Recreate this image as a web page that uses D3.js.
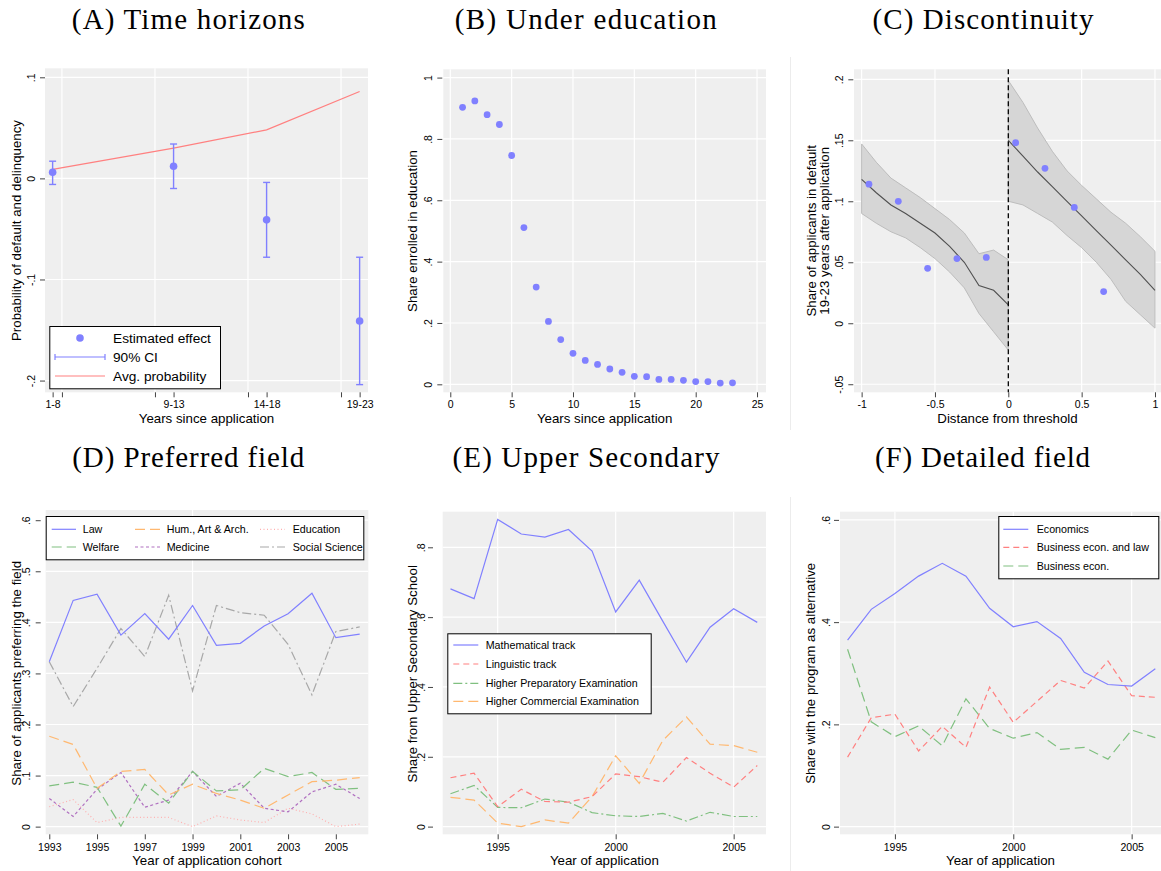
<!DOCTYPE html>
<html><head><meta charset="utf-8">
<script src="https://cdn.jsdelivr.net/npm/d3@7"></script>
<style>body{margin:0;background:#fff}svg{display:block}</style>
</head><body>
<svg id="c" width="1161" height="871"></svg>
<script>
// ---------------- DATA ----------------
// (A) Time horizons
const periodLabels = ["1-8", "9-13", "14-18", "19-23"];
const periodMid = [4.5, 11, 16, 21];
const periodGrid = [5, 10, 15, 20];
const estEffect = [0.006, 0.012, -0.041, -0.141];
const ciLow = [-0.006, -0.010, -0.078, -0.204];
const ciHigh = [0.017, 0.034, -0.004, -0.078];
const avgProb = [0.009, 0.030, 0.048, 0.086];
const aYTicks = [-0.2, -0.1, 0, 0.1];
const aYLabels = ["-.2", "-.1", "0", ".1"];

// (B) Under education
const yearsSince = [1,2,3,4,5,6,7,8,9,10,11,12,13,14,15,16,17,18,19,20,21,22,23];
const shareEnrolled = [0.903,0.924,0.879,0.847,0.746,0.511,0.317,0.205,0.146,0.101,0.078,0.065,0.050,0.039,0.026,0.025,0.016,0.016,0.013,0.009,0.009,0.004,0.005];
const bXTicks = [0,5,10,15,20,25];
const bXLabels = ["0","5","10","15","20","25"];
const bYTicks = [0,0.2,0.4,0.6,0.8,1];
const bYLabels = ["0",".2",".4",".6",".8","1"];

// (C) Discontinuity
const binX = [-0.95,-0.75,-0.55,-0.35,-0.15,0.05,0.25,0.45,0.65];
const binY = [0.114,0.100,0.045,0.053,0.054,0.148,0.127,0.095,0.026];
const gridLeft = [-1,-0.9,-0.8,-0.7,-0.6,-0.5,-0.4,-0.3,-0.2,-0.1,0];
const fitLeft = [0.118,0.107,0.097,0.090,0.082,0.074,0.063,0.050,0.031,0.027,0.015];
const upLeft  = [0.147,0.132,0.119,0.111,0.103,0.094,0.085,0.074,0.057,0.060,0.052];
const loLeft  = [0.090,0.082,0.075,0.070,0.062,0.053,0.042,0.029,0.008,-0.007,-0.022];
const gridRight = [0,0.1,0.2,0.3,0.4,0.5,0.6,0.7,0.8,0.9,1];
const fitRight = [0.150,0.137,0.124,0.112,0.100,0.088,0.076,0.064,0.052,0.040,0.027];
const upRight  = [0.199,0.181,0.160,0.141,0.125,0.113,0.102,0.091,0.082,0.071,0.059];
const loRight  = [0.100,0.097,0.090,0.083,0.072,0.062,0.050,0.036,0.018,0.007,-0.004];
const cXTicks = [-1,-0.5,0,0.5,1];
const cXLabels = ["-1","-0.5","0","0.5","1"];
const cYTicks = [-0.05,0,0.05,0.1,0.15,0.2];
const cYLabels = ["-.05","0",".05",".1",".15",".2"];

// (D) Preferred field
const cohorts = [1993,1994,1995,1996,1997,1998,1999,2000,2001,2002,2003,2004,2005,2006];
const law       = [0.323,0.443,0.455,0.375,0.417,0.367,0.433,0.355,0.359,0.393,0.417,0.457,0.370,0.377];
const welfare   = [0.080,0.087,0.077,0.001,0.083,0.046,0.108,0.070,0.072,0.114,0.098,0.106,0.073,0.075];
const humArt    = [0.177,0.161,0.075,0.108,0.112,0.062,0.083,0.065,0.052,0.036,0.062,0.088,0.091,0.096];
const medicine  = [0.055,0.020,0.073,0.106,0.038,0.052,0.108,0.059,0.085,0.036,0.029,0.068,0.083,0.055];
const education = [0.039,0.053,0.008,0.018,0.018,0.018,0.000,0.021,0.013,0.008,0.036,0.025,0.000,0.005];
const socSci    = [0.323,0.235,0.310,0.388,0.333,0.453,0.266,0.433,0.419,0.414,0.357,0.258,0.382,0.391];
const dXTicks = [1993,1995,1997,1999,2001,2003,2005];
const dYTicks = [0,0.1,0.2,0.3,0.4,0.5,0.6];
const dYLabels = ["0",".1",".2",".3",".4",".5",".6"];

// (E) Upper Secondary
const mathTrack = [0.681,0.653,0.880,0.838,0.829,0.851,0.789,0.615,0.706,0.588,0.471,0.571,0.624,0.585];
const lingTrack = [0.140,0.153,0.057,0.107,0.072,0.070,0.086,0.151,0.143,0.127,0.198,0.153,0.113,0.175];
const prepExam  = [0.094,0.118,0.055,0.054,0.079,0.070,0.040,0.031,0.029,0.038,0.016,0.041,0.029,0.029];
const commExam  = [0.084,0.076,0.010,0.000,0.019,0.010,0.086,0.203,0.124,0.247,0.314,0.236,0.232,0.213];
const eXTicks = [1995,2000,2005];
const eYTicks = [0,0.2,0.4,0.6,0.8];
const eYLabels = ["0",".2",".4",".6",".8"];

// (F) Detailed field
const economics = [0.365,0.425,0.456,0.490,0.515,0.490,0.427,0.391,0.401,0.368,0.302,0.278,0.275,0.309];
const bizLaw    = [0.136,0.213,0.220,0.148,0.196,0.155,0.273,0.204,0.245,0.286,0.271,0.324,0.256,0.253];
const bizEcon   = [0.347,0.205,0.176,0.197,0.158,0.250,0.192,0.173,0.184,0.151,0.155,0.132,0.189,0.174];
const fYTicks = [0,0.2,0.4,0.6];
const fYLabels = ["0",".2",".4",".6"];

// ---------------- STYLE ----------------
const SANS = "'Liberation Sans', Arial, Helvetica, sans-serif";
const SERIF = "'Liberation Serif', 'Times New Roman', serif";
const BLUE = "#8080ff", RED = "#ff8080", GREEN = "#80c080", ORANGE = "#ffb870",
      PURPLE = "#b070c0", PINK = "#ffb0b0", GRAY = "#a8a8a8";

const svg = d3.select("#c");

// light panel borders
svg.append("line").attr("x1",790.5).attr("x2",790.5).attr("y1",57).attr("y2",430).attr("stroke","#ececec");
svg.append("line").attr("x1",790.5).attr("x2",790.5).attr("y1",497).attr("y2",871).attr("stroke","#ececec");

function title(txt, cx, base, w) {
  svg.append("text").attr("x", cx - w/2).attr("y", base).text(txt)
    .attr("textLength", w).attr("lengthAdjust", "spacing")
    .style("font-family", SERIF).style("font-size", "29px").attr("fill", "#000");
}

function panel(p) {
  const g = svg.append("g");
  const x = d3.scaleLinear().domain(p.xd).range([p.L, p.R]);
  const y = d3.scaleLinear().domain(p.yd).range([p.B, p.T]);
  g.append("rect").attr("x", p.L).attr("y", p.T).attr("width", p.R - p.L).attr("height", p.B - p.T).attr("fill", "#efefef");
  g.selectAll(null).data(p.yTicks).enter().append("line")
    .attr("x1", p.L).attr("x2", p.R).attr("y1", d => y(d)).attr("y2", d => y(d))
    .attr("stroke", "#fff").attr("stroke-width", 1.2);
  g.selectAll(null).data(p.xGrid || []).enter().append("line")
    .attr("y1", p.T).attr("y2", p.B).attr("x1", d => x(d)).attr("x2", d => x(d))
    .attr("stroke", "#fff").attr("stroke-width", 1.2);
  // y axis
  const ya = d3.axisLeft(y).tickValues(p.yTicks).tickFormat((d, i) => p.yLabels[i]).tickSize(5);
  const yg = g.append("g").attr("transform", `translate(${p.yAxisX},0)`).call(ya);
  yg.select(".domain").remove();
  yg.selectAll(".tick line").attr("stroke", "#444");
  yg.selectAll(".tick text").attr("transform", "rotate(-90)").attr("x", 0)
    .attr("y", -(p.yAxisX - p.yLabX)).attr("dy", 0).attr("text-anchor", "middle")
    .style("font-family", SANS).style("font-size", "10.5px").attr("fill", "#000");
  // x axis
  const xa = d3.axisBottom(x).tickValues(p.xTicks).tickFormat((d, i) => p.xLabels[i]).tickSize(5);
  const xg = g.append("g").attr("transform", `translate(0,${p.B})`).call(xa);
  xg.select(".domain").remove();
  xg.selectAll(".tick line").attr("stroke", "#444");
  xg.selectAll(".tick text").attr("y", p.xLabBase - p.B).attr("dy", 0)
    .style("font-family", SANS).style("font-size", "10.5px").attr("fill", "#000");
  if (p.xMinor) {
    const xm = d3.axisBottom(x).tickValues(p.xMinor).tickFormat("").tickSize(5);
    const mg = g.append("g").attr("transform", `translate(0,${p.B})`).call(xm);
    mg.select(".domain").remove();
    mg.selectAll(".tick line").attr("stroke", "#444");
  }
  // axis titles
  g.append("text").attr("x", (p.L + p.R) / 2).attr("y", p.xTitleBase).attr("text-anchor", "middle")
    .text(p.xTitle).style("font-family", SANS).style("font-size", "13.3px").attr("fill", "#000");
  const cy = p.yTitleCY;
  p.yTitle.forEach((t, i) => {
    const bx = p.yTitleX[i];
    g.append("text").attr("transform", `translate(${bx},${cy}) rotate(-90)`).attr("text-anchor", "middle")
      .text(t).style("font-family", SANS).style("font-size", "13.3px").attr("fill", "#000");
  });
  return { g, x, y };
}

function legendBox(g, x0, y0, x1, y1) {
  g.append("rect").attr("x", x0 + 0.5).attr("y", y0 + 0.5).attr("width", x1 - x0).attr("height", y1 - y0)
    .attr("fill", "#fff").attr("stroke", "#000").attr("stroke-width", 1);
}
function legendLine(g, x0, x1, yy, color, dash, label, tx, fs) {
  g.append("line").attr("x1", x0).attr("x2", x1).attr("y1", yy).attr("y2", yy)
    .attr("stroke", color).attr("stroke-width", 1.2).attr("stroke-dasharray", dash || null);
  g.append("text").attr("x", tx).attr("y", yy + fs * 0.36).text(label)
    .style("font-family", SANS).style("font-size", fs + "px").attr("fill", "#000");
}
function seriesLine(g, x, y, xs, ys, color, dash) {
  g.append("path").datum(ys.map((v, i) => [xs[i], v]))
    .attr("d", d3.line().x(d => x(d[0])).y(d => y(d[1])))
    .attr("fill", "none").attr("stroke", color).attr("stroke-width", 1.2)
    .attr("stroke-dasharray", dash || null);
}

const LONG = "10,5", DASH = "6,4", SHORT = "3,2.5", DOT = "1,2.5", DASHDOT = "9,3,2,3";

// ---------------- (A) ----------------
title("(A) Time horizons", 188.3, 28.5, 233);
{
  const { g, x, y } = panel({
    L: 45, R: 368, T: 68.3, B: 392.3, xd: [4.09, 21.45], yd: [-0.2116, 0.1089],
    yTicks: aYTicks, yLabels: aYLabels, xTicks: periodMid, xLabels: periodLabels,
    xGrid: periodGrid, xMinor: periodGrid, yAxisX: 45, yLabX: 35, xLabBase: 408.5,
    xTitle: "Years since application", xTitleBase: 423, yTitle: ["Probability of default and delinquency"],
    yTitleX: [20.5], yTitleCY: 230.5
  });
  seriesLine(g, x, y, periodMid, avgProb, RED);
  periodMid.forEach((m, i) => {
    g.append("line").attr("x1", x(m)).attr("x2", x(m)).attr("y1", y(ciLow[i])).attr("y2", y(ciHigh[i]))
      .attr("stroke", BLUE).attr("stroke-width", 1.4);
    [ciLow[i], ciHigh[i]].forEach(v => g.append("line").attr("x1", x(m) - 3.5).attr("x2", x(m) + 3.5)
      .attr("y1", y(v)).attr("y2", y(v)).attr("stroke", BLUE).attr("stroke-width", 1.4));
  });
  g.selectAll(null).data(estEffect).enter().append("circle")
    .attr("cx", (d, i) => x(periodMid[i])).attr("cy", d => y(d)).attr("r", 3.8).attr("fill", BLUE);
  legendBox(g, 49.3, 326, 220, 388.3);
  g.append("circle").attr("cx", 80).attr("cy", 338).attr("r", 3.8).attr("fill", BLUE);
  g.append("text").attr("x", 113).attr("y", 338 + 5).text("Estimated effect").style("font-family", SANS).style("font-size", "13.7px");
  g.append("line").attr("x1", 55).attr("x2", 105).attr("y1", 357).attr("y2", 357).attr("stroke", BLUE).attr("stroke-width", 1.2);
  [55, 105].forEach(xx => g.append("line").attr("x1", xx).attr("x2", xx).attr("y1", 354).attr("y2", 360).attr("stroke", BLUE).attr("stroke-width", 1.2));
  g.append("text").attr("x", 113).attr("y", 357 + 5).text("90% CI").style("font-family", SANS).style("font-size", "13.7px");
  g.append("line").attr("x1", 55).attr("x2", 105).attr("y1", 376).attr("y2", 376).attr("stroke", RED).attr("stroke-width", 1.2);
  g.append("text").attr("x", 113).attr("y", 376 + 5).text("Avg. probability").style("font-family", SANS).style("font-size", "13.7px");
}

// ---------------- (B) ----------------
title("(B) Under education", 585.8, 28.5, 262);
{
  const { g, x, y } = panel({
    L: 443.3, R: 766, T: 69.3, B: 392.3, xd: [-0.57, 25.73], yd: [-0.026, 1.027],
    yTicks: bYTicks, yLabels: bYLabels, xTicks: bXTicks, xLabels: bXLabels, xGrid: bXTicks,
    yAxisX: 442.3, yLabX: 431.7, xLabBase: 408.5,
    xTitle: "Years since application", xTitleBase: 423, yTitle: ["Share enrolled in education"],
    yTitleX: [417], yTitleCY: 231
  });
  g.selectAll(null).data(shareEnrolled).enter().append("circle")
    .attr("cx", (d, i) => x(yearsSince[i])).attr("cy", d => y(d)).attr("r", 3.4).attr("fill", BLUE);
}

// ---------------- (C) ----------------
title("(C) Discontinuity", 983, 28.5, 221);
{
  const { g, x, y } = panel({
    L: 854, R: 1161, T: 69.3, B: 392.3, xd: [-1.052, 1.041], yd: [-0.0566, 0.2082],
    yTicks: cYTicks, yLabels: cYLabels, xTicks: cXTicks, xLabels: cXLabels, xGrid: cXTicks,
    yAxisX: 853.3, yLabX: 843, xLabBase: 408.5,
    xTitle: "Distance from threshold", xTitleBase: 423,
    yTitle: ["Share of applicants in default", "19-23 years after application"],
    yTitleX: [815.5, 829], yTitleCY: 230.8
  });
  const area = d3.area().x(d => x(d[0])).y0(d => y(d[1])).y1(d => y(d[2]));
  const line = d3.line().x(d => x(d[0])).y(d => y(d[1]));
  [[gridLeft, fitLeft, upLeft, loLeft], [gridRight, fitRight, upRight, loRight]].forEach(([gx, fit, up, lo]) => {
    g.append("path").datum(gx.map((v, i) => [v, lo[i], up[i]])).attr("d", area)
      .attr("fill", "#d6d6d6").attr("stroke", "#bdbdbd").attr("stroke-width", 1);
  });
  [[gridLeft, fitLeft], [gridRight, fitRight]].forEach(([gx, fit]) => {
    g.append("path").datum(gx.map((v, i) => [v, fit[i]])).attr("d", line)
      .attr("fill", "none").attr("stroke", "#505050").attr("stroke-width", 1.1);
  });
  g.append("line").attr("x1", x(0)).attr("x2", x(0)).attr("y1", 69.3).attr("y2", 392.3)
    .attr("stroke", "#000").attr("stroke-width", 1.3).attr("stroke-dasharray", "5,3");
  g.selectAll(null).data(binY).enter().append("circle")
    .attr("cx", (d, i) => x(binX[i])).attr("cy", d => y(d)).attr("r", 3.4).attr("fill", BLUE);
}

// ---------------- (D) ----------------
title("(D) Preferred field", 188.3, 467, 232);
{
  const { g, x, y } = panel({
    L: 45.7, R: 368.3, T: 510, B: 834.3, xd: [1992.85, 2006.36], yd: [-0.015, 0.62],
    yTicks: dYTicks, yLabels: dYLabels, xTicks: dXTicks, xLabels: dXTicks.map(String), xGrid: [1999],
    yAxisX: 40.7, yLabX: 30, xLabBase: 851,
    xTitle: "Year of application cohort", xTitleBase: 864.5, yTitle: ["Share of applicants preferring the field"],
    yTitleX: [20.5], yTitleCY: 673.3
  });
  seriesLine(g, x, y, cohorts, education, PINK, DOT);
  seriesLine(g, x, y, cohorts, medicine, PURPLE, SHORT);
  seriesLine(g, x, y, cohorts, welfare, GREEN, LONG);
  seriesLine(g, x, y, cohorts, humArt, ORANGE, LONG);
  seriesLine(g, x, y, cohorts, socSci, GRAY, DASHDOT);
  seriesLine(g, x, y, cohorts, law, BLUE);
  legendBox(g, 45.7, 516, 363.3, 559.3);
  const fs = 10.7;
  legendLine(g, 51.7, 76, 529.3, BLUE, null, "Law", 82.7, fs);
  legendLine(g, 135, 160, 529.3, ORANGE, LONG, "Hum., Art & Arch.", 166.7, fs);
  legendLine(g, 260, 285, 529.3, PINK, DOT, "Education", 292.7, fs);
  legendLine(g, 51.7, 76, 547, GREEN, LONG, "Welfare", 82.7, fs);
  legendLine(g, 135, 160, 547, PURPLE, SHORT, "Medicine", 166.7, fs);
  legendLine(g, 260, 285, 547, GRAY, DASHDOT, "Social Science", 292.7, fs);
}

// ---------------- (E) ----------------
title("(E) Upper Secondary", 586, 467, 267);
{
  const { g, x, y } = panel({
    L: 442.7, R: 766, T: 511.7, B: 834.3, xd: [1992.67, 2006.37], yd: [-0.022, 0.902],
    yTicks: eYTicks, yLabels: eYLabels, xTicks: eXTicks, xLabels: eXTicks.map(String), xGrid: eXTicks,
    yAxisX: 433, yLabX: 425, xLabBase: 851,
    xTitle: "Year of application", xTitleBase: 865, yTitle: ["Share from Upper Secondary School"],
    yTitleX: [417], yTitleCY: 673.8
  });
  seriesLine(g, x, y, cohorts, prepExam, GREEN, DASHDOT);
  seriesLine(g, x, y, cohorts, commExam, ORANGE, LONG);
  seriesLine(g, x, y, cohorts, lingTrack, RED, DASH);
  seriesLine(g, x, y, cohorts, mathTrack, BLUE);
  legendBox(g, 447.3, 633.3, 650.7, 713.3);
  const fs = 10.7;
  legendLine(g, 453.3, 478.3, 645, BLUE, null, "Mathematical track", 485.7, fs);
  legendLine(g, 453.3, 478.3, 664, RED, DASH, "Linguistic track", 485.7, fs);
  legendLine(g, 453.3, 478.3, 683.3, GREEN, DASHDOT, "Higher Preparatory Examination", 485.7, fs);
  legendLine(g, 453.3, 478.3, 701.3, ORANGE, LONG, "Higher Commercial Examination", 485.7, fs);
}

// ---------------- (F) ----------------
title("(F) Detailed field", 982.5, 467, 215);
{
  const { g, x, y } = panel({
    L: 840, R: 1161, T: 511.7, B: 834.3, xd: [1992.68, 2006.24], yd: [-0.015, 0.616],
    yTicks: fYTicks, yLabels: fYLabels, xTicks: eXTicks, xLabels: eXTicks.map(String), xGrid: eXTicks,
    yAxisX: 839, yLabX: 830, xLabBase: 851,
    xTitle: "Year of application", xTitleBase: 865, yTitle: ["Share with the program as alternative"],
    yTitleX: [815], yTitleCY: 673.3
  });
  seriesLine(g, x, y, cohorts, bizEcon, GREEN, LONG);
  seriesLine(g, x, y, cohorts, bizLaw, RED, DASH);
  seriesLine(g, x, y, cohorts, economics, BLUE);
  legendBox(g, 998.3, 516, 1158.3, 578.3);
  const fs = 10.7;
  legendLine(g, 1003.3, 1028.3, 529.3, BLUE, null, "Economics", 1036.7, fs);
  legendLine(g, 1003.3, 1028.3, 547.3, RED, DASH, "Business econ. and law", 1036.7, fs);
  legendLine(g, 1003.3, 1028.3, 566, GREEN, LONG, "Business econ.", 1036.7, fs);
}
</script>
</body></html>
